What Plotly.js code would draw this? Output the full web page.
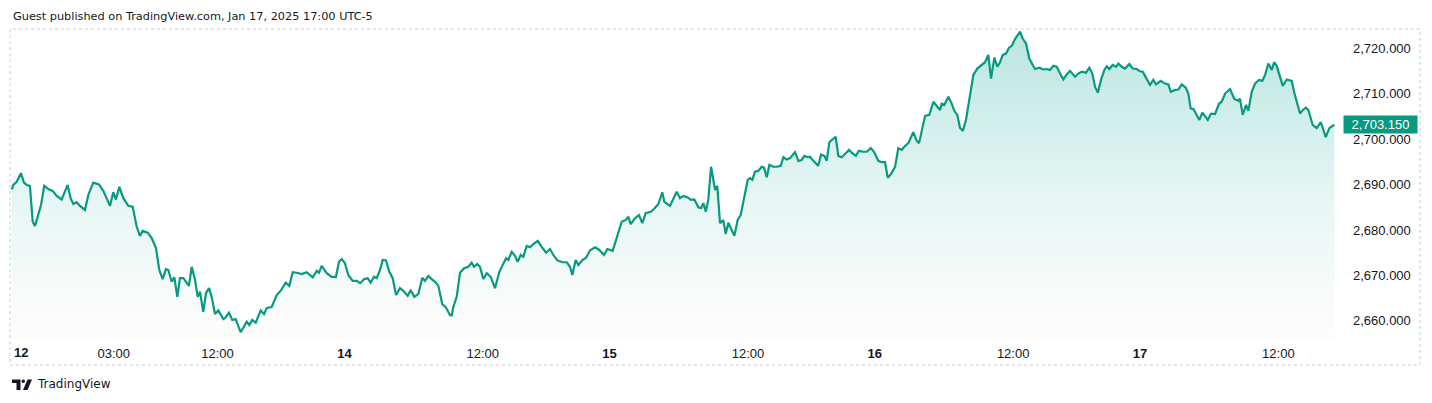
<!DOCTYPE html>
<html>
<head>
<meta charset="utf-8">
<script src="https://cdn.plot.ly/plotly-3.0.1.min.js"></script>
<style>
  html, body { margin: 0; padding: 0; background: #fff; }
  #chart { width: 1432px; height: 403px; }
</style>
</head>
<body>
<div id="chart"></div>
<script>
// trading hours since the session open (Sun Jan 12, 18:00), 23h per session
const hours = [
	0.15, 0.29, 0.58, 0.95, 1.21, 1.45, 1.73, 1.97, 2.17, 2.45, 2.69, 2.97, 3.32, 3.70, 4.05, 4.48,
	5.00, 5.26, 5.49, 5.78, 6.07, 6.50, 6.79, 7.22, 7.72, 8.09, 8.39, 8.67, 8.96, 9.19, 9.48, 9.83,
	10.26, 10.64, 10.99, 11.27, 11.51, 11.94, 12.29, 12.66, 12.95, 13.24, 13.53, 13.73, 14.02, 14.25,
	14.51, 14.74, 15.03, 15.52, 15.76, 16.05, 16.28, 16.48, 16.76, 17.00, 17.26, 17.49, 17.78, 18.07,
	18.50, 18.65, 18.99, 19.28, 19.57, 20.01, 20.53, 20.75, 21.01, 21.31, 21.74, 22.03, 22.26, 22.70,
	23.13, 23.50, 23.91, 24.22, 24.52, 24.87, 25.30, 25.73, 26.25, 26.60, 26.80, 27.03, 27.47, 27.90,
	28.27, 28.53, 28.77, 29.05, 29.34, 29.72, 30.07, 30.36, 30.73, 31.02, 31.28, 31.57, 31.80, 32.09,
	32.32, 32.61, 32.90, 33.19, 33.48, 33.82, 34.11, 34.49, 34.75, 35.06, 35.41, 35.76, 35.99, 36.28,
	36.57, 36.86, 37.15, 37.49, 37.79, 38.16, 38.31, 38.45, 38.74, 39.03, 39.38, 39.75, 40.04, 40.24,
	40.53, 40.76, 41.05, 41.34, 41.69, 42.06, 42.44, 42.73, 43.02, 43.22, 43.51, 43.80, 44.03, 44.29,
	44.52, 44.81, 45.10, 45.39, 45.77, 46.11, 46.49, 46.83, 47.12, 47.47, 47.94, 48.28, 48.57, 48.77,
	49.06, 49.29, 49.64, 49.96, 50.30, 50.74, 51.11, 51.52, 51.80, 52.27, 52.62, 53.05, 53.40, 53.63,
	53.83, 54.21, 54.55, 54.84, 55.13, 55.57, 55.85, 56.23, 56.57, 56.75, 57.24, 57.82, 58.11, 58.39,
	58.74, 59.06, 59.35, 59.70, 59.93, 60.13, 60.34, 60.56, 60.80, 60.94, 61.15, 61.34, 61.58, 61.86,
	62.07, 62.30, 62.59, 62.82, 63.11, 63.37, 63.69, 63.98, 64.18, 64.38, 64.61, 64.90, 65.19, 65.39,
	65.63, 65.86, 66.20, 66.50, 66.84, 67.07, 67.36, 67.65, 68.08, 68.37, 68.66, 68.89, 69.18, 69.38,
	69.67, 70.10, 70.34, 70.63, 70.83, 71.06, 71.32, 71.61, 71.84, 72.13, 72.42, 72.77, 73.00, 73.35,
	73.63, 73.96, 74.30, 74.65, 74.93, 75.31, 75.60, 75.89, 76.12, 76.41, 76.76, 77.04, 77.34, 77.56,
	77.91, 78.34, 78.64, 78.84, 79.36, 79.73, 80.08, 80.37, 80.66, 80.81, 81.03, 81.38, 81.67, 81.90,
	82.16, 82.39, 82.63, 82.91, 83.20, 83.55, 83.89, 84.27, 84.56, 84.85, 85.08, 85.37, 85.63, 85.86,
	86.10, 86.38, 86.64, 86.88, 87.16, 87.60, 87.83, 88.12, 88.40, 88.70, 88.90, 89.27, 89.62, 89.91,
	90.20, 90.49, 90.78, 91.07, 91.35, 91.65, 91.93, 92.37, 92.65, 92.95, 93.32, 93.61, 93.87, 94.10,
	94.34, 94.62, 94.91, 95.12, 95.34, 95.64, 95.93, 96.13, 96.42, 96.70, 97.08, 97.37, 97.72, 98.00,
	98.24, 98.52, 98.87, 99.16, 99.39, 99.80, 100.17, 100.46, 100.67, 101.04, 101.33, 101.62, 101.97,
	102.19, 102.40, 102.63, 103.15, 103.41, 103.70, 103.88, 104.16, 104.51, 104.86, 105.09, 105.38,
	105.81, 106.18, 106.53, 106.67, 106.91, 107.20, 107.40, 107.69, 107.98, 108.32, 108.61, 108.85,
	109.13, 109.43, 109.63, 109.86, 110.15, 110.38, 110.73, 111.16, 111.40, 111.60, 111.88, 112.12,
	112.38, 112.60, 112.98, 113.33, 113.68, 114.11, 114.42, 114.86
];

const prices = [
	2688.9, 2689.9, 2690.6, 2692.5, 2690.4, 2689.9, 2689.7, 2681.8, 2680.9, 2683.7, 2685.5, 2689.7, 2689.0, 2688.6, 2687.5, 2686.7,
	2689.9, 2687.0, 2685.7, 2686.1, 2685.3, 2684.4, 2687.7, 2690.4, 2690.0, 2688.6, 2687.0, 2685.3, 2688.3, 2686.7, 2689.5, 2687.0,
	2685.3, 2685.1, 2680.7, 2678.7, 2679.8, 2679.4, 2678.2, 2676.0, 2671.2, 2669.2, 2671.4, 2671.2, 2668.6, 2669.6,
	2665.3, 2669.4, 2669.4, 2667.7, 2671.9, 2669.0, 2665.3, 2666.4, 2662.0, 2666.1, 2667.2, 2665.3, 2661.5, 2662.3,
	2660.4, 2660.6, 2661.8, 2660.2, 2660.4, 2657.5, 2659.8, 2659.1, 2660.2, 2659.6, 2662.3, 2661.5, 2662.8, 2663.1,
	2665.7, 2666.7, 2668.4, 2667.7, 2670.7, 2670.6, 2670.3, 2670.7, 2669.6, 2671.0, 2670.6, 2672.1, 2670.5, 2669.7,
	2669.7, 2673.0, 2673.6, 2672.7, 2670.1, 2668.8, 2668.8, 2668.3, 2669.2, 2669.4, 2668.4, 2669.7, 2669.4, 2671.2,
	2673.4, 2673.3, 2670.8, 2669.4, 2665.7, 2667.2, 2666.6, 2665.5, 2666.8, 2665.3, 2665.9, 2669.5, 2668.8, 2669.9,
	2669.2, 2668.6, 2667.7, 2663.7, 2663.0, 2661.3, 2661.2, 2663.1, 2665.3, 2670.6, 2671.6, 2671.9, 2672.8, 2671.9,
	2672.5, 2671.9, 2669.2, 2670.5, 2669.7, 2667.2, 2670.8, 2672.3, 2673.8, 2673.4, 2675.2, 2674.3, 2673.0, 2674.5,
	2674.1, 2676.5, 2676.2, 2676.9, 2677.6, 2676.3, 2675.0, 2675.8, 2674.5, 2673.3, 2672.9, 2672.9, 2671.9, 2670.1,
	2673.4, 2672.3, 2673.4, 2673.9, 2675.5, 2676.2, 2675.6, 2674.5, 2675.8, 2675.4, 2678.2, 2681.8, 2682.2, 2682.9,
	2681.3, 2682.6, 2683.3, 2681.5, 2683.7, 2684.0, 2684.6, 2685.7, 2688.3, 2686.2, 2685.3, 2688.4, 2687.0, 2687.5,
	2687.2, 2686.6, 2686.7, 2685.0, 2684.8, 2685.9, 2684.0, 2686.6, 2693.9, 2691.9, 2688.8, 2689.7, 2681.5, 2682.2,
	2679.1, 2681.6, 2680.0, 2678.7, 2682.2, 2683.3, 2687.3, 2691.0, 2691.4, 2691.0, 2692.8, 2693.0, 2693.9, 2693.7,
	2691.6, 2694.3, 2693.9, 2693.9, 2694.1, 2696.0, 2695.5, 2695.8, 2697.1, 2695.2, 2695.4, 2696.3, 2696.0, 2696.1,
	2695.2, 2694.1, 2696.6, 2696.3, 2695.2, 2699.3, 2699.9, 2700.5, 2696.3, 2696.0, 2696.7, 2697.6, 2697.0, 2696.3,
	2697.4, 2697.2, 2697.2, 2698.0, 2697.2, 2695.2, 2694.9, 2694.9, 2691.5, 2692.3, 2693.9, 2698.0, 2697.6, 2698.3,
	2699.1, 2701.5, 2699.6, 2699.1, 2705.1, 2705.3, 2708.2, 2707.3, 2706.4, 2707.8, 2707.5, 2709.3, 2707.8, 2706.2,
	2705.3, 2702.5, 2701.8, 2704.2, 2708.9, 2714.1, 2715.5, 2716.3, 2716.9, 2718.5, 2713.3, 2717.9, 2715.9, 2716.9,
	2718.5, 2718.8, 2720.1, 2720.5, 2722.0, 2723.6, 2722.1, 2721.0, 2717.7, 2716.3, 2715.4, 2715.7, 2715.3, 2715.4,
	2715.2, 2716.1, 2715.9, 2714.4, 2713.1, 2714.2, 2715.0, 2713.7, 2714.4, 2714.8, 2714.6, 2715.7, 2714.4, 2711.5,
	2710.2, 2713.0, 2715.2, 2716.0, 2715.4, 2716.3, 2715.9, 2716.6, 2715.9, 2715.5, 2716.5, 2715.5, 2715.4, 2714.9,
	2714.8, 2713.5, 2711.9, 2713.0, 2712.0, 2712.8, 2712.2, 2712.0, 2710.4, 2710.8, 2710.9, 2712.0, 2711.3,
	2710.0, 2706.7, 2706.6, 2704.2, 2705.8, 2704.7, 2704.2, 2705.6, 2705.5, 2707.8, 2708.2, 2710.0,
	2711.0, 2708.8, 2708.4, 2708.9, 2705.3, 2707.5, 2706.2, 2710.4, 2712.2, 2713.0, 2712.8, 2714.1,
	2716.6, 2715.2, 2716.9, 2716.1, 2713.3, 2711.7, 2713.1, 2712.8, 2710.0, 2708.2, 2705.6, 2706.4,
	2706.9, 2706.4, 2703.1, 2702.4, 2703.7, 2700.4, 2702.4, 2703.15
];

const tickHours = [9, 18, 29, 41, 52, 64, 75, 87, 98, 110];
const tickLabels = ['03:00', '12:00', '<b>14</b>', '12:00', '<b>15</b>', '12:00', '<b>16</b>', '12:00', '<b>17</b>', '12:00'];
const firstDayLabel = '12';
const priceTicks = [2660, 2670, 2680, 2690, 2700, 2710, 2720];
const headerText = 'Guest published on TradingView.com, Jan 17, 2025 17:00 UTC-5';

const lastPrice = prices[prices.length - 1];
const TEAL = '#089981';
const INK = '#131722';
const FONT = 'Liberation Sans, Arial, sans-serif';
const WIDE_FONT = 'DejaVu Sans, Verdana, sans-serif';

const area = {
	x: hours,
	y: prices,
	type: 'scatter',
	mode: 'lines',
	line: { color: TEAL, width: 2.2 },
	fill: 'tozeroy',
	fillgradient: {
		type: 'vertical',
		start: 2655.8,
		stop: 2724.2,
		colorscale: [
			[0, 'rgba(255,236,226,0.10)'],
			[0.45, 'rgba(8,168,150,0.10)'],
			[1, 'rgba(8,160,140,0.28)']
		]
	},
	hoverinfo: 'skip'
};

const layout = {
	width: 1432,
	height: 403,
	margin: { l: 10, r: 96, t: 29, b: 63 },
	paper_bgcolor: '#ffffff',
	plot_bgcolor: '#ffffff',
	showlegend: false,
	hovermode: false,
	font: { family: FONT, color: INK, size: 13 },
	xaxis: {
		range: [0, 115],
		showgrid: false,
		zeroline: false,
		showline: false,
		ticks: '',
		tickvals: tickHours,
		ticktext: tickLabels,
		tickfont: { family: FONT, size: 13, color: INK },
		ticklabelstandoff: 4,
		fixedrange: true
	},
	yaxis: {
		side: 'right',
		range: [2655.8, 2724.2],
		showgrid: false,
		zeroline: false,
		showline: false,
		ticks: '',
		tickvals: priceTicks,
		tickformat: ',.3f',
		tickfont: { family: FONT, size: 13, color: INK },
		ticklabelstandoff: 16,
		fixedrange: true
	},
	shapes: [
		{
			type: 'rect', xref: 'paper', yref: 'paper',
			x0: 0, x1: 1.0633, y0: -0.0804, y1: 1,
			line: { color: '#c8ccd8', width: 1, dash: 'dot' }
		},
		// TradingView logo mark
		{
			type: 'path', xref: 'paper', yref: 'paper',
			xsizemode: 'pixel', ysizemode: 'pixel', xanchor: 0, yanchor: -0.1415,
			path: 'M2,4.5 L10.5,4.5 L10.5,-6 L6.5,-6 L6.5,1 L2,1 Z',
			fillcolor: INK, line: { width: 0 }
		},
		{
			type: 'circle', xref: 'paper', yref: 'paper',
			xsizemode: 'pixel', ysizemode: 'pixel', xanchor: 0, yanchor: -0.1415,
			x0: 11.6, x1: 15.0, y0: 1.1, y1: 4.5,
			fillcolor: INK, line: { width: 0 }
		},
		{
			type: 'path', xref: 'paper', yref: 'paper',
			xsizemode: 'pixel', ysizemode: 'pixel', xanchor: 0, yanchor: -0.1415,
			path: 'M13,-6 L17.5,-6 L22,4.5 L17.5,4.5 Z',
			fillcolor: INK, line: { width: 0 }
		}
	],
	annotations: [
		{
			text: headerText, xref: 'paper', yref: 'paper',
			x: 0, y: 1, xanchor: 'left', yanchor: 'middle',
			xshift: 1, yshift: 13, showarrow: false,
			font: { family: WIDE_FONT, size: 11.3, color: INK }
		},
		{
			text: '<b>' + firstDayLabel + '</b>', xref: 'x', yref: 'paper',
			x: 0, y: 0, xanchor: 'left', yanchor: 'middle',
			xshift: 2, yshift: -12, showarrow: false,
			font: { family: FONT, size: 13, color: INK }
		},
		{
			text: lastPrice.toLocaleString('en-US', { minimumFractionDigits: 3, maximumFractionDigits: 3 }),
			xref: 'paper', yref: 'y',
			x: 1, y: lastPrice, xanchor: 'left', yanchor: 'middle',
			xshift: 7, showarrow: false,
			bgcolor: TEAL, borderpad: 2, width: 69, height: 13,
			font: { family: FONT, size: 13, color: '#ffffff' }
		},
		{
			text: 'TradingView', xref: 'paper', yref: 'paper',
			x: 0, y: -0.1415, xanchor: 'left', yanchor: 'middle',
			xshift: 25, showarrow: false,
			font: { family: WIDE_FONT, size: 12, color: INK }
		}
	]
};

Plotly.newPlot('chart', [area], layout, { displayModeBar: false, staticPlot: true });
</script>
</body>
</html>
